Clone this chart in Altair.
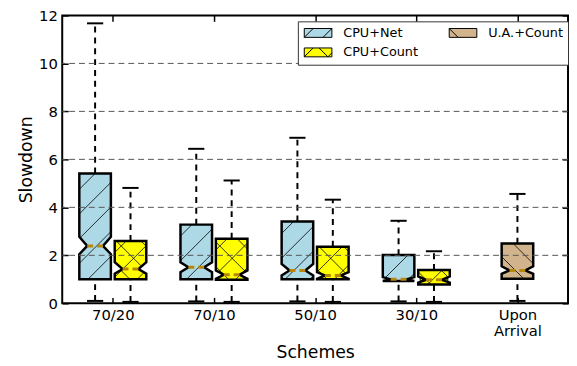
import json
import altair as alt
import pandas as pd

# ---------------- data ----------------
categories = ["70/20", "70/10", "50/10", "30/10", "Upon Arrival"]
series = ["CPU+Net", "CPU+Count", "U.A.+Count"]
series_colors = ["#add8e6", "#ffff00", "#d2b48c"]
series_hatch = ["/", "x", "\\"]

box_category = ["70/20", "70/20", "70/10", "70/10", "50/10", "50/10", "30/10", "30/10", "Upon Arrival"]
box_series = ["CPU+Net", "CPU+Count", "CPU+Net", "CPU+Count", "CPU+Net", "CPU+Count",
              "CPU+Net", "CPU+Count", "U.A.+Count"]
whisker_low = [0.10, 0.06, 0.08, 0.06, 0.08, 0.06, 0.08, 0.06, 0.10]
q1 = [1.00, 1.00, 1.00, 0.98, 1.00, 1.00, 0.93, 0.78, 1.02]
notch_low = [2.05, 1.23, 1.30, 1.02, 1.16, 1.02, 0.93, 0.86, 1.23]
median = [2.39, 1.43, 1.50, 1.19, 1.37, 1.16, 1.00, 0.98, 1.37]
notch_high = [2.77, 1.71, 1.71, 1.37, 1.64, 1.30, 1.09, 1.12, 1.54]
q3 = [5.41, 2.60, 3.28, 2.69, 3.41, 2.36, 2.01, 1.39, 2.49]
whisker_high = [11.67, 4.81, 6.44, 5.12, 6.90, 4.32, 3.44, 2.17, 4.56]

y_ticks = [0, 2, 4, 6, 8, 10, 12]
grid_values = [2, 4, 6, 8, 10]

# ---------------- layout / style constants ----------------
W, H = 513, 292
XMIN, XMAX = 0.5, len(categories) + 0.5
YMAX = 12
SX = W / (XMAX - XMIN)
SY = H / YMAX
series_offset = {"CPU+Net": -0.175, "CPU+Count": 0.175, "U.A.+Count": 0.0}
HALF_W = 0.156      # half box width (data units)
CAP_HW = 0.08       # half cap width
HATCH_P = 25.0      # hatch spacing in px
HATCH_PHASE = {"/": 1.7, "\\": 18.0}

color_of = dict(zip(series, series_colors))
hatch_of = dict(zip(series, series_hatch))
legend_order = list(series)   # vega fills legend columns first, like matplotlib


def clip_line(poly, p0, d):
    ts = []
    n = len(poly)
    for i in range(n):
        ax, ay = poly[i]
        bx, by = poly[(i + 1) % n]
        ex, ey = bx - ax, by - ay
        den = d[0] * ey - d[1] * ex
        if abs(den) < 1e-12:
            continue
        wx, wy = ax - p0[0], ay - p0[1]
        t = (wx * ey - wy * ex) / den
        s = (wx * d[1] - wy * d[0]) / den
        if 0 <= s < 1:
            ts.append(t)
    ts.sort()
    return [(ts[j], ts[j + 1]) for j in range(0, len(ts) - 1, 2)]


area_rows, whisk_rows, cap_rows, med_rows, hatch_rows, summary_rows = [], [], [], [], [], []
for i, (cat, ser) in enumerate(zip(box_category, box_series)):
    pos = categories.index(cat) + 1 + series_offset[ser]
    L, R = pos - HALF_W, pos + HALF_W
    nl, nr = pos - HALF_W / 2, pos + HALF_W / 2
    prof = [(q1[i], L, R), (notch_low[i], L, R), (median[i], nl, nr),
            (notch_high[i], L, R), (q3[i], L, R)]
    for k, (yy, xl, xr) in enumerate(prof):
        area_rows.append({"box": i, "k": k, "y": yy, "xl": xl, "xr": xr, "series": ser})
    whisk_rows.append({"x": pos, "y": q3[i], "y2": whisker_high[i]})
    whisk_rows.append({"x": pos, "y": whisker_low[i], "y2": q1[i]})
    cap_rows.append({"x": pos - CAP_HW, "x2": pos + CAP_HW, "y": whisker_high[i]})
    cap_rows.append({"x": pos - CAP_HW, "x2": pos + CAP_HW, "y": whisker_low[i]})
    med_rows.append({"x": nl, "x2": nr, "y": median[i]})
    summary_rows.append({"pos": pos, "mid": (q1[i] + q3[i]) / 2, "series": ser})

    poly_d = [(L, q1[i]), (R, q1[i]), (R, notch_low[i]), (nr, median[i]), (R, notch_high[i]),
              (R, q3[i]), (L, q3[i]), (L, notch_high[i]), (nl, median[i]), (L, notch_low[i])]
    poly = [((x - XMIN) * SX, y * SY) for x, y in poly_d]
    h = hatch_of[ser]
    fams = []
    if h in ("/", "x"):
        fams.append(("/", (1.0, 1.0)))
    if h in ("\\", "x"):
        fams.append(("\\", (1.0, -1.0)))
    for fam, d in fams:
        vals = [px - py for px, py in poly] if fam == "/" else [px + py for px, py in poly]
        lo, hi = min(vals), max(vals)
        ph = HATCH_PHASE[fam]
        k0 = int((lo - ph) // HATCH_P)
        c = ph + k0 * HATCH_P
        while c <= hi:
            for t0, t1 in clip_line(poly, (c, 0.0), d):
                xa, ya = c + t0 * d[0], t0 * d[1]
                xb, yb = c + t1 * d[0], t1 * d[1]
                hatch_rows.append({"x": XMIN + xa / SX, "y": ya / SY,
                                   "x2": XMIN + xb / SX, "y2": yb / SY})
            c += HATCH_P

area_df = pd.DataFrame(area_rows)
whisk_df = pd.DataFrame(whisk_rows)
cap_df = pd.DataFrame(cap_rows)
med_df = pd.DataFrame(med_rows)
hatch_df = pd.DataFrame(hatch_rows)
summary_df = pd.DataFrame(summary_rows)
grid_df = pd.DataFrame({"g": grid_values})

# ---------------- scales & axes ----------------
xs = alt.Scale(domain=[XMIN, XMAX], nice=False, zero=False)
ys = alt.Scale(domain=[0, YMAX], nice=False, zero=False)
fill_scale = alt.Scale(domain=legend_order, range=[color_of[s] for s in legend_order])
stroke_scale = alt.Scale(domain=legend_order, range=["black"] * len(legend_order))

rect = "M-2.8,-0.9L2.8,-0.9L2.8,0.9L-2.8,0.9Z"
sym_hatch = {
    "/": "M-2.8,0.9L-1,-0.9M1,0.9L2.8,-0.9",
    "x": "M-2.8,0.9L-1,-0.9M0.2,-0.9L2,0.9M2,0.9L2.8,0.1",
    "\\": "M-2.8,-0.9L-1,0.9",
}
shape_scale = alt.Scale(domain=legend_order,
                        range=[rect + sym_hatch[hatch_of[s]] for s in legend_order])

lab = json.dumps([c.split(" ") if " " in c else c for c in categories])
tick_style = dict(domain=False, grid=False, ticks=True, tickSize=6, tickWidth=1.5,
                  tickColor="black")

x_axis_bottom = alt.Axis(orient="bottom", offset=-6, values=list(range(1, len(categories) + 1)),
                         labelExpr=f"{lab}[datum.value - 1]", labelFontSize=15,
                         labelColor="black", labelPadding=4, labelLineHeight=17,
                         labelFlush=False, labelOverlap=False, title="Schemes",
                         titleFontSize=17.5, titleFontWeight="normal", titleColor="black",
                         titlePadding=5, **tick_style)
y_axis_left = alt.Axis(orient="left", offset=-6, values=y_ticks, format="d", labelFontSize=15,
                       labelColor="black", labelPadding=5, labelFlush=False,
                       labelOverlap=False, title="Slowdown", titleFontSize=17.5,
                       titleFontWeight="normal", titleColor="black", titlePadding=3,
                       **tick_style)
x_axis_top = alt.Axis(orient="top", offset=-6, values=list(range(1, len(categories) + 1)),
                      labels=False, title=None, **tick_style)
y_axis_right = alt.Axis(orient="right", offset=-6, values=y_ticks, labels=False, title=None,
                        **tick_style)

leg = alt.Legend(title=None, orient="none", legendX=239, legendY=6, values=legend_order,
                 columns=2, columnPadding=29, rowPadding=6, padding=5,
                 strokeColor="#333333", fillColor="white",
                 labelFontSize=13, labelColor="black", symbolSize=100,
                 symbolStrokeWidth=1, symbolOpacity=1,
                 symbolOffset=9, labelOffset=19, cornerRadius=0)

# ---------------- layers ----------------
legend_layer = alt.Chart(summary_df).mark_point(
    filled=True, strokeWidth=1, size=100, opacity=1).encode(
    x=alt.X("pos:Q", scale=xs, axis=None),
    y=alt.Y("mid:Q", scale=ys, axis=None),
    fill=alt.Fill("series:N", scale=fill_scale, legend=leg),
    stroke=alt.Stroke("series:N", scale=stroke_scale, legend=leg),
    shape=alt.Shape("series:N", scale=shape_scale, legend=leg),
)
whiskers = alt.Chart(whisk_df).mark_rule(color="black", strokeWidth=2, strokeDash=[6, 5]).encode(
    x=alt.X("x:Q", scale=xs, axis=x_axis_top),
    y=alt.Y("y:Q", scale=ys, axis=y_axis_right),
    y2="y2:Q",
)
caps = alt.Chart(cap_df).mark_rule(color="black", strokeWidth=2).encode(
    x=alt.X("x:Q", scale=xs, axis=None), x2="x2:Q",
    y=alt.Y("y:Q", scale=ys, axis=None),
)
boxes = alt.Chart(area_df).mark_area(orient="horizontal", stroke="black", strokeWidth=2.5,
                                     strokeJoin="miter", interpolate="linear").encode(
    y=alt.Y("y:Q", scale=ys, axis=y_axis_left),
    x=alt.X("xl:Q", scale=xs, axis=x_axis_bottom),
    x2="xr:Q",
    fill=alt.Fill("series:N", scale=fill_scale, legend=None),
    detail="box:N",
)
hatch = alt.Chart(hatch_df).mark_rule(color="black", strokeWidth=0.8).encode(
    x=alt.X("x:Q", scale=xs, axis=None), x2="x2:Q",
    y=alt.Y("y:Q", scale=ys, axis=None), y2="y2:Q",
)
medians = alt.Chart(med_df).mark_rule(color="#b8860b", strokeWidth=3, strokeDash=[6, 4]).encode(
    x=alt.X("x:Q", scale=xs, axis=None), x2="x2:Q",
    y=alt.Y("y:Q", scale=ys, axis=None),
)
grid = alt.Chart(grid_df).mark_rule(color="#555555", strokeWidth=1, strokeDash=[6, 4]).encode(
    y=alt.Y("g:Q", scale=ys, axis=None),
)

chart = alt.layer(legend_layer, whiskers, caps, boxes, hatch, medians, grid).resolve_axis(
    x="independent", y="independent"
).properties(
    width=W, height=H,
    autosize=alt.AutoSizeParams(type="none"),
    padding={"left": 55, "top": 5, "right": 1, "bottom": 58},
).configure(font="DejaVu Sans").configure_view(stroke="black", strokeWidth=2)

chart.save("out.html", embed_options={"renderer": "svg", "actions": False})
